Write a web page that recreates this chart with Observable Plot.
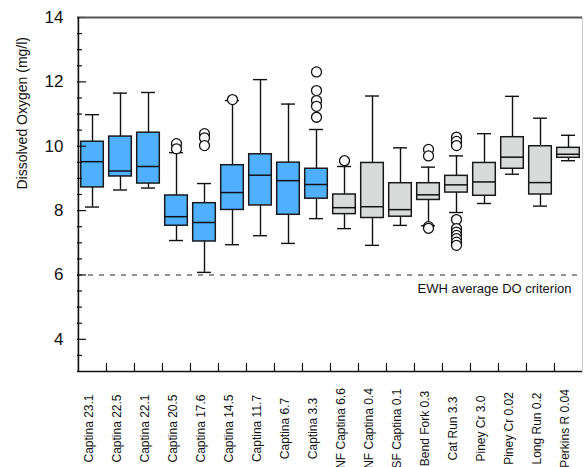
<!DOCTYPE html>
<html>
<head>
<meta charset="utf-8">
<script src="https://cdn.jsdelivr.net/npm/d3@7"></script>
<script src="https://cdn.jsdelivr.net/npm/@observablehq/plot@0.6"></script>
<style>
  html, body { margin: 0; padding: 0; background: #fff; }
  #chart svg { display: block; font-family: "Liberation Sans", Arial, sans-serif; }
</style>
</head>
<body>
<div id="chart"></div>
<script>
const stations = ["Captina 23.1","Captina 22.5","Captina 22.1","Captina 20.5","Captina 17.6","Captina 14.5","Captina 11.7","Captina 6.7","Captina 3.3","NF Captina 6.6","NF Captina 0.4","SF Captina 0.1","Bend Fork 0.3","Cat Run 3.3","Piney Cr 3.0","Piney Cr 0.02","Long Run 0.2","Perkins R 0.04"];
const groups = ["main","main","main","main","main","main","main","main","main","trib","trib","trib","trib","trib","trib","trib","trib","trib"];
const whiskerLow  = [8.11, 8.64, 8.70, 7.07, 6.08, 6.94, 7.22, 6.98, 7.75, 7.44, 6.92, 7.54, 7.53, 7.94, 8.22, 9.13, 8.14, 9.55];
const q1          = [8.72, 9.06, 8.84, 7.53, 7.04, 8.02, 8.16, 7.87, 8.37, 7.89, 7.77, 7.81, 8.33, 8.56, 8.46, 9.30, 8.50, 9.64];
const median      = [9.52, 9.23, 9.37, 7.81, 7.63, 8.56, 9.10, 8.93, 8.81, 8.09, 8.12, 8.03, 8.49, 8.80, 8.89, 9.66, 8.87, 9.75];
const q3          = [10.14, 10.30, 10.42, 8.47, 8.23, 9.41, 9.75, 9.49, 9.30, 8.50, 9.48, 8.85, 8.85, 9.08, 9.48, 10.28, 10.00, 9.95];
const whiskerHigh = [10.98, 11.65, 11.67, 9.80, 8.84, 11.42, 12.07, 11.31, 10.52, 9.37, 11.56, 9.95, 9.35, 9.70, 10.39, 11.55, 10.87, 10.34];

const outlierStation = ["Captina 20.5","Captina 20.5","Captina 17.6","Captina 17.6","Captina 17.6","Captina 14.5",
  "Captina 3.3","Captina 3.3","Captina 3.3","Captina 3.3","Captina 3.3","NF Captina 6.6",
  "Bend Fork 0.3","Bend Fork 0.3","Bend Fork 0.3","Bend Fork 0.3",
  "Cat Run 3.3","Cat Run 3.3","Cat Run 3.3","Cat Run 3.3","Cat Run 3.3","Cat Run 3.3","Cat Run 3.3","Cat Run 3.3","Cat Run 3.3","Cat Run 3.3"];
const outlierValue = [10.08, 9.92, 10.39, 10.26, 10.02, 11.45,
  12.31, 11.73, 11.42, 11.24, 10.90, 9.55,
  9.90, 9.70, 7.50, 7.45,
  10.28, 10.15, 10.02, 7.72, 7.44, 7.33, 7.23, 7.13, 7.02, 6.92];

const yMajorTicks = [4, 6, 8, 10, 12, 14];
const yMinorTicks = [3.5, 4.5, 5, 5.5, 6.5, 7, 7.5, 8.5, 9, 9.5, 10.5, 11, 11.5, 12.5, 13, 13.5];
const criterionValue = 6;
const criterionLabel = "EWH average DO criterion";
const yLabel = "Dissolved Oxygen (mg/l)";

const boxes = stations.map((s, i) => ({station: s, group: groups[i], lo: whiskerLow[i], q1: q1[i], med: median[i], q3: q3[i], hi: whiskerHigh[i]}));
const outliers = outlierStation.map((s, i) => ({station: s, value: outlierValue[i]}));

const W = 584, H = 467, mL = 77, mR = 2, mT = 17, mB = 96;
const step = (W - mL - mR) / stations.length;
const plotH = H - mT - mB;

const chart = Plot.plot({
  width: W,
  height: H,
  marginLeft: mL,
  marginRight: mR,
  marginTop: mT,
  marginBottom: mB,
  style: {fontFamily: "'Liberation Sans', Arial, sans-serif", background: "#fff"},
  x: {type: "band", domain: stations, padding: 0, axis: null},
  y: {domain: [3, 14], axis: null},
  color: {domain: ["main", "trib"], range: ["#4fb0ff", "#d9dada"]},
  marks: [
    Plot.frame({stroke: "#cfcfcf"}),
    Plot.ruleY([criterionValue], {stroke: "#6e6e6e", strokeWidth: 1.5, strokeDasharray: "5,6"}),
    Plot.text([criterionLabel], {y: () => criterionValue, frameAnchor: "right", textAnchor: "end", dx: -11, dy: 14, fontSize: 13, fill: "#111"}),
    Plot.ruleX(boxes, {x: "station", y1: "lo", y2: "hi", stroke: "#111", strokeWidth: 1.4}),
    Plot.tickY(boxes, {x: "station", y: "lo", stroke: "#111", strokeWidth: 1.4, insetLeft: 7, insetRight: 7}),
    Plot.tickY(boxes, {x: "station", y: "hi", stroke: "#111", strokeWidth: 1.4, insetLeft: 7, insetRight: 7}),
    Plot.barY(boxes, {x: "station", y1: "q1", y2: "q3", fill: "group", stroke: "#1a1a1a", strokeWidth: 1.5, insetLeft: 2.7, insetRight: 2.7}),
    Plot.tickY(boxes, {x: "station", y: "med", stroke: "#111", strokeWidth: 1.5, insetLeft: 2.7, insetRight: 2.7}),
    Plot.dot(outliers, {x: "station", y: "value", r: 5, fill: "#fff", stroke: "#111", strokeWidth: 1.3}),
    // y ticks drawn inward
    Plot.tickY(yMajorTicks, {y: d => d, stroke: "#111", strokeWidth: 1.2, insetRight: W - mL - mR - 9}),
    Plot.tickY(yMinorTicks, {y: d => d, stroke: "#111", strokeWidth: 1.2, insetRight: W - mL - mR - 5}),
    Plot.text(yMajorTicks, {y: d => d, text: d => String(d), frameAnchor: "left", textAnchor: "end", dx: -14, fontSize: 17, fill: "#111"}),
    // x ticks at category boundaries
    Plot.ruleX(stations.slice(1), {x: d => d, dx: -step / 2, stroke: "#111", strokeWidth: 1.2, insetTop: plotH - 8}),
    Plot.text(stations, {x: d => d, frameAnchor: "bottom", rotate: -90, textAnchor: "middle", dy: 57, fontSize: 12, fill: "#111"}),
    // axis frame lines
    Plot.ruleY([3], {stroke: "#111", strokeWidth: 1.5}),
    Plot.ruleY([14], {stroke: "#555", strokeWidth: 2}),
    Plot.ruleX([stations[0]], {dx: -step / 2, stroke: "#111", strokeWidth: 1.5}),
    Plot.text([yLabel], {frameAnchor: "left", rotate: -90, dx: -55, dy: -5, fontSize: 14, fill: "#111"})
  ]
});
document.getElementById("chart").appendChild(chart);
</script>
</body>
</html>
